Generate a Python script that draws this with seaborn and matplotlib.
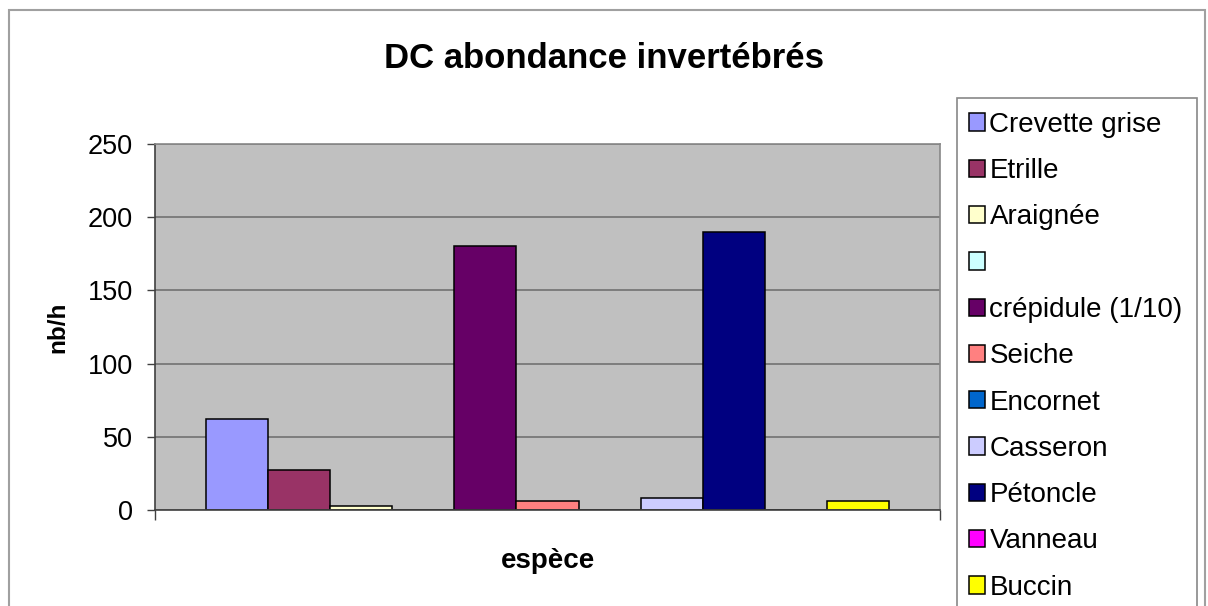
import matplotlib
matplotlib.use("Agg")
import matplotlib.pyplot as plt
from matplotlib.patches import Patch, Rectangle
import pandas as pd
import seaborn as sns

# Abundance per species (individuals per hour)
especes = ["Crevette grise", "Etrille", "Araignée", "", "crépidule (1/10)",
           "Seiche", "Encornet", "Casseron", "Pétoncle", "Vanneau", "Buccin"]
abondance = [62, 27, 3, 0, 180, 6, 0, 8, 190, 0, 6]
couleurs = ["#9999FF", "#993366", "#FFFFCC", "#CCFFFF", "#660066", "#FF8080",
            "#0066CC", "#CCCCFF", "#000080", "#FF00FF", "#FFFF00"]
yticks = [0, 50, 100, 150, 200, 250]

df = pd.DataFrame({"groupe": ["DC"] * len(especes),
                   "espece": especes,
                   "nb": abondance})

sns.set_theme(style="white")
plt.rcParams["font.family"] = ["Liberation Sans", "DejaVu Sans"]
plt.rcParams.update({"text.color": "black", "axes.labelcolor": "black",
                     "xtick.color": "black", "ytick.color": "black"})

fig = plt.figure(figsize=(12.08, 6.06), dpi=100)
ax = fig.add_axes([155 / 1208, 1 - 510 / 606, (940 - 155) / 1208, (510 - 144) / 606])
ax.set_facecolor("#C0C0C0")

sns.barplot(data=df, x="groupe", y="nb", hue="espece", hue_order=especes,
            palette=couleurs, saturation=1, width=0.87, errorbar=None,
            edgecolor="black", linewidth=1.1, legend=False, ax=ax)

ax.set_ylim(0, 250)
ax.set_yticks(yticks)
ax.set_yticklabels([str(v) for v in yticks])
ax.set_xlim(-0.5, 0.5)
ax.set_xticks([-0.5, 0.5])
ax.set_xticklabels(["", ""])
ax.yaxis.grid(True, color="#777777", linewidth=1.3)
ax.set_axisbelow(True)

for side in ["top", "right"]:
    ax.spines[side].set_color("#888888")
    ax.spines[side].set_linewidth(1.2)
for side in ["left", "bottom"]:
    ax.spines[side].set_color("#404040")
    ax.spines[side].set_linewidth(1.2)

ax.tick_params(axis="y", direction="out", length=6, width=1, color="#404040",
               labelcolor="black", labelsize=19.5, pad=10, left=True)
ax.tick_params(axis="x", direction="out", length=7, width=1, color="#404040",
               bottom=True)

ax.set_ylabel("nb/h", fontsize=17.5, fontweight="bold", labelpad=13, color="black")
ax.set_xlabel("espèce", fontsize=20, fontweight="bold", labelpad=17, color="black")

fig.suptitle("DC abondance invertébrés", x=0.5, y=1 - 58 / 606, va="center",
             fontsize=25, fontweight="bold", color="black")

# Legend entries; the legend box runs past the bottom edge of the chart area
handles = [Patch(facecolor=c, edgecolor="black", linewidth=1.1) for c in couleurs]
leg = fig.legend(handles, especes, loc="upper left",
                 bbox_to_anchor=(955 / 1208, 1 - 98 / 606),
                 bbox_transform=fig.transFigure, borderaxespad=0,
                 fontsize=20, handlelength=0.58, handleheight=0.58,
                 handletextpad=0.16, labelspacing=0.73, borderpad=0.5,
                 labelcolor="black", frameon=False)
fig.add_artist(Rectangle((957 / 1208, -0.05), (1197 - 957) / 1208, 1.05 - 98 / 606,
                         transform=fig.transFigure, facecolor="white",
                         edgecolor="#888888", linewidth=1.2, zorder=0))

# Chart-area border
fig.add_artist(Rectangle((9 / 1208, -0.05), (1205 - 9) / 1208, 1.05 - 10 / 606,
                         transform=fig.transFigure, fill=False,
                         edgecolor="#A0A0A0", linewidth=1.5))

fig.savefig("out.png", dpi=100)
